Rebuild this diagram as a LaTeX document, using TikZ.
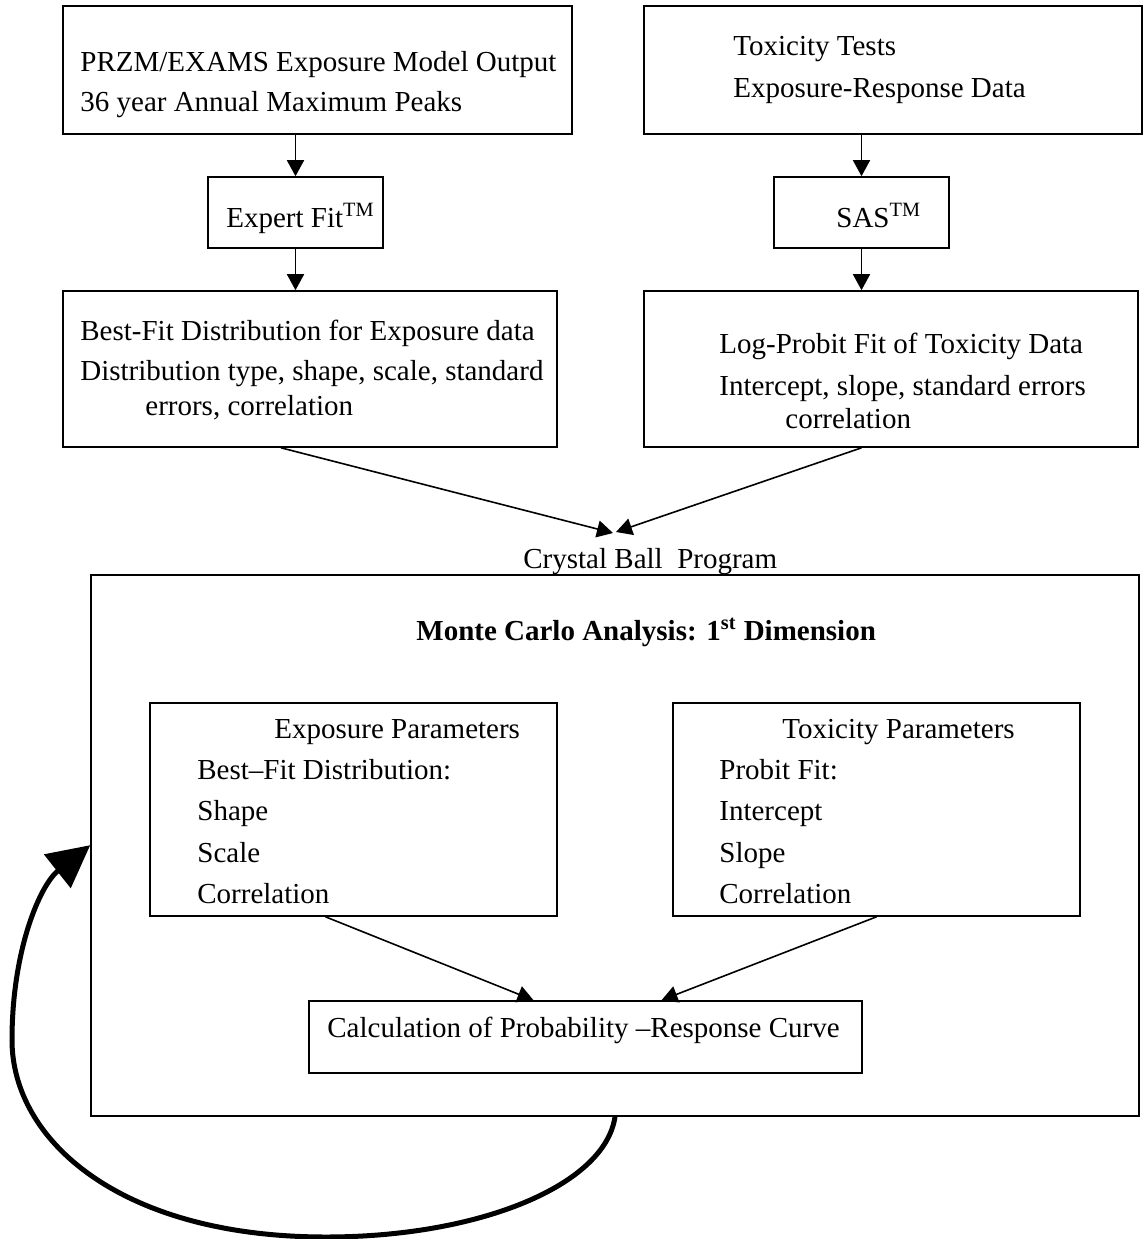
\documentclass[tikz,border=0pt]{standalone}
\usepackage{fontspec}
\setmainfont{Liberation Serif}
\usetikzlibrary{fit,calc,arrows.meta}
\begin{document}
\begin{tikzpicture}[x=0.5pt,y=-0.5pt,
  box/.style={draw,line width=0.8pt,inner sep=0pt,rectangle},
  txt/.style={anchor=base west,inner sep=0pt,font=\fontsize{14.5}{17}\selectfont},
  arr/.style={line width=0.8pt,-{Triangle[length=8pt,width=8.5pt]}},
  loop/.style={line width=2.5pt,-{Triangle[length=21pt,width=21pt]}}]
\useasboundingbox (0,0) rectangle (1144,1239);
% boxes
\node[box,fit={(63,6) (572,134)}] (A) {};
\node[box,fit={(644,6) (1142,134)}] (B) {};
\node[box,fit={(208,177) (383,248)}] (EF) {};
\node[box,fit={(774,177) (949,248)}] (SAS) {};
\node[box,fit={(63,291) (557,447)}] (BF) {};
\node[box,fit={(644,291) (1138,447)}] (LP) {};
\node[box,fit={(91,575) (1139,1116)}] (MC) {};
\node[box,fit={(150,703) (557,916)}] (EP) {};
\node[box,fit={(673,703) (1080,916)}] (TP) {};
\node[box,fit={(309,1001) (862,1073)}] (CALC) {};
% texts
\node[txt] (tA1) at (80,71) {PRZM/EXAMS Exposure Model Output};
\node[txt] (tA2) at (80,111) {36 year Annual Maximum Peaks};
\node[txt] (tB1) at (733,55) {Toxicity Tests};
\node[txt] (tB2) at (733,97) {Exposure-Response Data};
\node[txt] (tEF) at (226,227) {Expert Fit\textsuperscript{TM}};
\node[txt] (tSAS) at (836,227) {SAS\textsuperscript{TM}};
\node[txt] (tBF1) at (80,340) {Best-Fit Distribution for Exposure data};
\node[txt] (tBF2) at (80,380) {Distribution type, shape, scale, standard};
\node[txt] (tBF3) at (145,415) {errors, correlation};
\node[txt] (tLP1) at (719,353) {Log-Probit Fit of Toxicity Data};
\node[txt] (tLP2) at (719,395) {Intercept, slope, standard errors};
\node[txt] (tLP3) at (785,428) {correlation};
\node[txt] (tCB) at (523,568) {Crystal Ball\ \ Program};
\node[txt,font=\fontsize{14.5}{17}\selectfont\bfseries] (tMC) at (416,640) {Monte Carlo Analysis: 1\textsuperscript{st} Dimension};
\node[txt] (tEP1) at (274,738) {Exposure Parameters};
\node[txt] (tEP2) at (197,779) {Best–Fit Distribution:};
\node[txt] (tEP3) at (197,820) {Shape};
\node[txt] (tEP4) at (197,862) {Scale};
\node[txt] (tEP5) at (197,903) {Correlation};
\node[txt] (tTP1) at (782,738) {Toxicity Parameters};
\node[txt] (tTP2) at (719,779) {Probit Fit:};
\node[txt] (tTP3) at (719,820) {Intercept};
\node[txt] (tTP4) at (719,862) {Slope};
\node[txt] (tTP5) at (719,903) {Correlation};
\node[txt] (tCALC) at (327,1037) {Calculation of Probability –Response Curve};
% connectors
\coordinate (cbL) at (613,533);
\coordinate (cbR) at (616,532);
\coordinate (fb) at ($(MC.north west)+(0,271)$);
\draw[arr] (EF.north |- A.south) -- (EF.north);
\draw[arr] (EF.south) -- (EF.south |- BF.north);
\draw[arr] (SAS.north |- B.south) -- (SAS.north);
\draw[arr] (SAS.south) -- (SAS.south |- LP.north);
\draw[arr] ($(BF.south)+(-29,0)$) -- (cbL);
\draw[arr] (SAS.south |- LP.south) -- (cbR);
\draw[arr] ($(EP.south)+(-28,0)$) -- ($(CALC.north)+(-52,0)$);
\draw[arr] (TP.south) -- ($(CALC.north)+(76,0)$);
\draw[loop] (MC.south) .. controls (605,1185) and (480,1237) .. (326,1237)
  .. controls (120,1237) and (12,1140) .. (12,1040)
  .. controls (12,950) and (40,885) .. (fb);
\end{tikzpicture}
\end{document}
